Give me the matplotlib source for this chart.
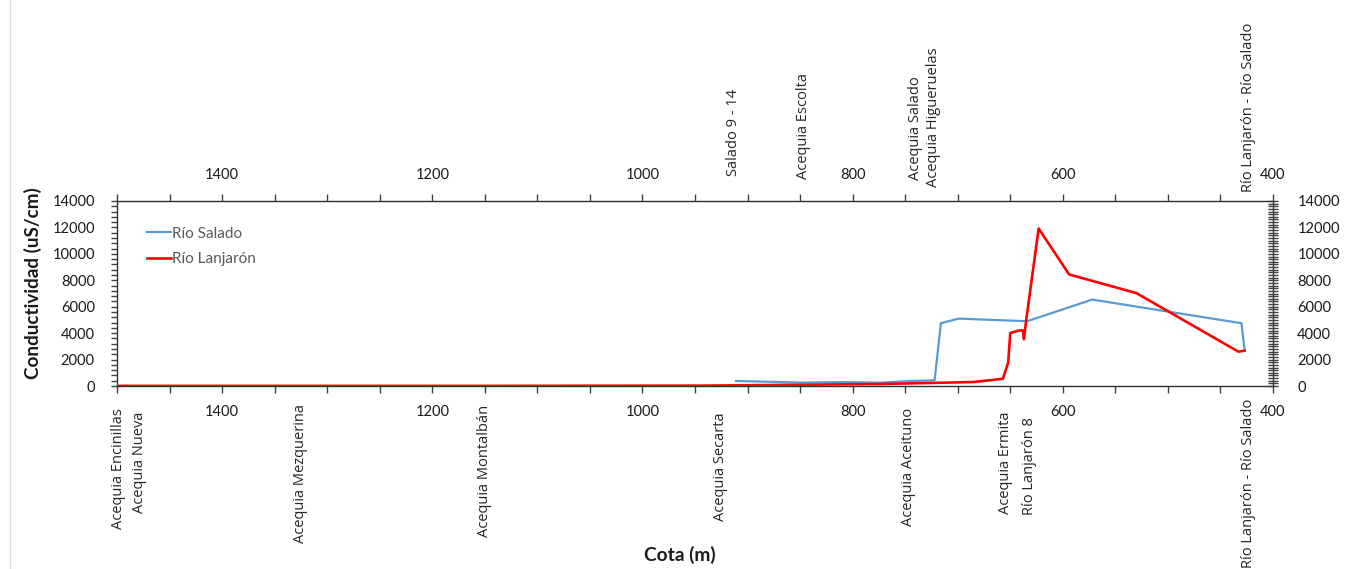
import matplotlib
matplotlib.use("Agg")
import matplotlib.pyplot as plt
from matplotlib.ticker import MultipleLocator, FuncFormatter
from matplotlib.lines import Line2D

# ---- data ----
salado_cota = [911, 849, 806, 774, 745, 722, 716, 699, 634, 572, 430, 427]
salado_cond = [380, 260, 300, 250, 380, 430, 4750, 5100, 4900, 6540, 4750, 2730]

lanjaron_cota = [1500, 1478, 1326, 1151, 940, 900, 774, 685, 657, 652, 650, 642, 638, 637, 635, 623, 594, 530, 433, 427]
lanjaron_cond = [10, 10, 10, 10, 30, 60, 150, 300, 550, 1770, 4000, 4200, 4200, 3540, 4880, 11920, 8440, 7030, 2600, 2680]

bottom_names = ["Acequia Encinillas", "Acequia Nueva", "Acequia Mezquerina", "Acequia Montalbán",
                "Acequia Secarta", "Acequia Aceituno", "Acequia Ermita", "Río Lanjarón 8",
                "Río Lanjarón - Río Salado"]
bottom_cota = [1499, 1479, 1325, 1150, 926, 747, 655, 632, 423]
bottom_top_px = [408, 412, 404, 405, 412, 408, 412, 417, 399]

top_names = ["Salado 9 - 14", "Acequia Escolta", "Acequia Salado", "Acequia Higueruelas",
             "Río Lanjarón - Río Salado"]
top_cota = [913, 847, 740, 723, 423]
top_bottom_px = [176, 179, 180, 187, 192]

series_names = ["Río Salado", "Río Lanjarón"]

# ---- figure ----
W, H = 1360, 569
fig = plt.figure(figsize=(W / 100, H / 100), dpi=100)
ax_l, ax_r, ax_t, ax_b = 117, 1273, 201, 386
ax = fig.add_axes([ax_l / W, 1 - ax_b / H, (ax_r - ax_l) / W, (ax_b - ax_t) / H])

blue = "#5B9BD5"
red = "#FF0000"
ax.plot(salado_cota, salado_cond, color=blue, lw=1.6, label=series_names[0], zorder=3)
ax.plot(lanjaron_cota, lanjaron_cond, color=red, lw=1.9, label=series_names[1], zorder=4)

ax.set_xlim(1500, 400)
ax.set_ylim(0, 14000)

tick_font = "Lato"
txt_col = "#1a1a1a"

ax.xaxis.set_major_locator(MultipleLocator(50))
ax.xaxis.set_major_formatter(FuncFormatter(lambda v, p: f"{int(round(v))}" if int(round(v)) % 200 == 0 else ""))
ax.tick_params(axis="x", which="both", direction="out", length=5, width=1, color="#404040",
               top=True, labeltop=True, bottom=True, labelbottom=True, pad=9,
               labelsize=10.5, labelcolor=txt_col)
ax.yaxis.set_major_locator(MultipleLocator(2000))
ax.yaxis.set_minor_locator(MultipleLocator(400))
ax.tick_params(axis="y", which="both", direction="out", length=4, width=1, color="#404040",
               pad=12, labelsize=10.5, labelcolor=txt_col)
for lab in ax.get_xticklabels() + ax.get_yticklabels():
    lab.set_fontfamily(tick_font)
for sp in ax.spines.values():
    sp.set_color("#303030")
    sp.set_linewidth(1.0)

ax2 = ax.twinx()
ax2.set_ylim(0, 14000)
ax2.yaxis.set_major_locator(MultipleLocator(2000))
ax2.yaxis.set_minor_locator(MultipleLocator(200))
ax2.tick_params(axis="y", which="both", direction="inout", length=7, width=1, color="#404040",
                pad=14, labelsize=10.5, labelcolor=txt_col)
for lab in ax2.get_yticklabels():
    lab.set_fontfamily(tick_font)
for sp in ax2.spines.values():
    sp.set_visible(False)

# legend
leg = ax.legend(loc="upper left", bbox_to_anchor=(0.014, 0.935), frameon=False,
                handlelength=1.55, handletextpad=0.12, labelspacing=0.75,
                prop={"family": tick_font, "size": 11})
for t in leg.get_texts():
    t.set_color("#595959")

# axis titles
fig.text(33 / W, 1 - 283 / H, "Conductividad (uS/cm)", rotation=90, ha="center", va="center",
         fontsize=13.6, fontweight="bold", family=tick_font, color=txt_col)
fig.text(680 / W, 1 - 555 / H, "Cota (m)", ha="center", va="center",
         fontsize=13.8, fontweight="bold", family=tick_font, color=txt_col)

# station labels
trans = ax.get_xaxis_transform()
span = ax_b - ax_t
for name, c, ypx in zip(bottom_names, bottom_cota, bottom_top_px):
    ax.text(c, (ax_b - ypx) / span, name, rotation=90, ha="center", va="top",
            transform=trans, fontsize=10.5, family="Open Sans", color="#262626",
            clip_on=False)
for name, c, ypx in zip(top_names, top_cota, top_bottom_px):
    ax.text(c, (ax_b - ypx) / span, name, rotation=90, ha="center", va="bottom",
            transform=trans, fontsize=10.5, family="Open Sans", color="#262626",
            clip_on=False)

# chart-area left border
fig.add_artist(Line2D([10 / W, 10 / W], [0, 1], transform=fig.transFigure, color="#D9D9D9", lw=1))

fig.savefig("out.png", dpi=100)
